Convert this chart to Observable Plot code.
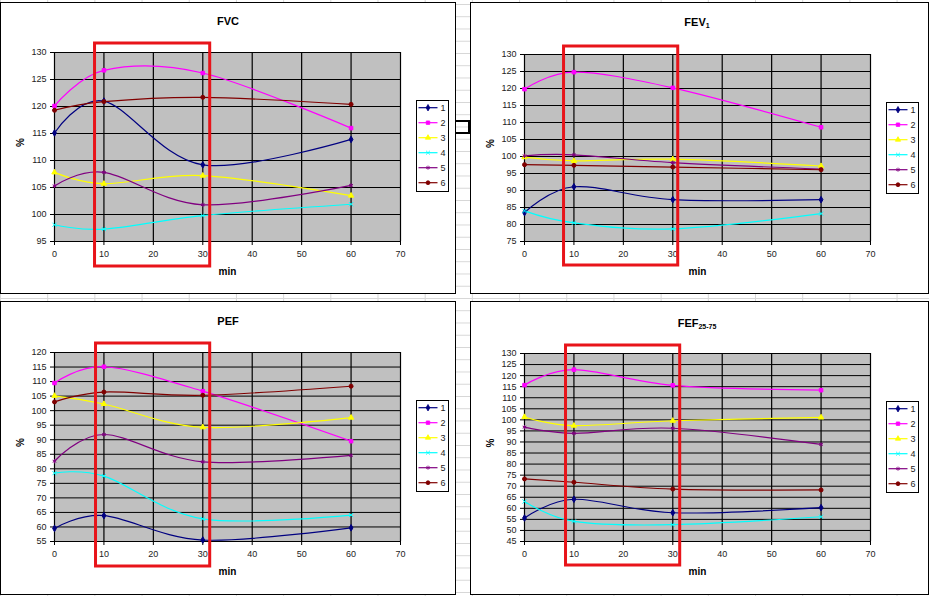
<!DOCTYPE html>
<html><head><meta charset="utf-8">
<script src="https://cdn.jsdelivr.net/npm/d3@7"></script>
<script src="https://cdn.jsdelivr.net/npm/@observablehq/plot@0.6"></script>
<style>
html,body{margin:0;padding:0;}
body{width:929px;height:596px;overflow:hidden;font-family:Arial,"Liberation Sans",sans-serif;background-color:#fff;
 background-image:linear-gradient(to bottom,#d6d6d6 1px,transparent 1px),linear-gradient(to right,#d6d6d6 1px,transparent 1px);
 background-size:47.2px 12.25px;background-position:0 4px;}
#wrap{position:relative;width:929px;height:596px;}
.panel{position:absolute;background:#fff;border:1px solid #000;box-sizing:border-box;}
.chart{position:absolute;}
.title{position:absolute;font-weight:bold;font-size:11px;transform:translate(-50%,-50%);white-space:nowrap;color:#000;}
.title sub{font-size:7px;vertical-align:-2px;line-height:0;}
.legend{position:absolute;}
.handle{position:absolute;background:#000;}
</style></head>
<body><div id="wrap"></div>
<script>
// ---- data ----
const minutes = [0, 10, 30, 60];
const series = ["1", "2", "3", "4", "5", "6"];
const seriesColors = ["#000080", "#ff00ff", "#ffff00", "#00ffff", "#800080", "#800000"];
const seriesSymbols = ["diamond", "square", "triangle", "times", "asterisk", "circle"];
const xTicks = [0, 10, 20, 30, 40, 50, 60, 70];

const fvc = [
  [115.1, 121.0, 109.2, 113.9],
  [120.1, 126.7, 126.2, 116.0],
  [107.8, 105.7, 107.2, 103.5],
  [98.1, 97.3, 99.8, 101.9],
  [105.3, 107.8, 101.8, 105.4],
  [119.3, 120.9, 121.7, 120.4]
];
const fev1 = [
  [83.5, 91.1, 87.3, 87.3],
  [119.8, 124.8, 120.2, 108.6],
  [99.8, 98.7, 99.2, 97.2],
  [84.0, 80.5, 78.7, 83.2],
  [100.2, 100.5, 98.2, 96.3],
  [97.6, 97.4, 96.9, 96.1]
];
const pef = [
  [59.5, 63.9, 55.5, 59.7],
  [109.5, 115.1, 106.7, 89.5],
  [105.1, 102.3, 94.3, 97.6],
  [78.5, 77.5, 62.8, 64.1],
  [82.6, 91.8, 82.4, 84.6],
  [103.0, 106.4, 105.3, 108.4]
];
const fef2575 = [
  [55.6, 64.1, 58.0, 60.3],
  [115.7, 122.7, 115.6, 113.4],
  [101.3, 97.4, 99.6, 101.1],
  [63.1, 54.1, 52.6, 56.2],
  [96.7, 93.9, 96.2, 88.9],
  [73.3, 71.8, 68.7, 68.3]
];
const fvcTicks = d3.range(95, 131, 5);
const fev1Ticks = d3.range(75, 131, 5);
const pefTicks = d3.range(55, 121, 5);
const fefTicks = d3.range(45, 131, 5);
// highlighted time window (min)
const fvcWindow = [8.2, 31.5];
const fev1Window = [8.0, 31.1];
const pefWindow = [8.4, 31.5];
const fefWindow = [8.4, 31.5];

// ---- layout ----
const panels = [
  {title: "FVC", sub: "", values: fvc, ticks: fvcTicks, win: fvcWindow,
   box: {left: 0, top: 2, width: 456, height: 292}, m: {l: 54, r: 56, t: 50, b: 53},
   titlePos: [228, 21], legendPos: [416, 100], winInset: [-9, -25]},
  {title: "FEV", sub: "1", values: fev1, ticks: fev1Ticks, win: fev1Window,
   box: {left: 470, top: 2, width: 459, height: 292}, m: {l: 54, r: 59, t: 52, b: 53},
   titlePos: [697, 22], legendPos: [886, 102], winInset: [-8, -24]},
  {title: "PEF", sub: "", values: pef, ticks: pefTicks, win: pefWindow,
   box: {left: 0, top: 301, width: 456, height: 294}, m: {l: 54, r: 56, t: 51, b: 54},
   titlePos: [228, 321], legendPos: [416, 400], winInset: [-9, -25]},
  {title: "FEF", sub: "25-75", values: fef2575, ticks: fefTicks, win: fefWindow,
   box: {left: 470, top: 301, width: 459, height: 294}, m: {l: 54, r: 59, t: 52, b: 54},
   titlePos: [697, 323], legendPos: [886, 401], winInset: [-8, -24]}
];

const wrap = document.getElementById("wrap");
const FONT = "Arial, 'Liberation Sans', sans-serif";

for (const p of panels) {
  const div = document.createElement("div");
  div.className = "panel";
  Object.assign(div.style, {left: p.box.left + "px", top: p.box.top + "px", width: p.box.width + "px", height: p.box.height + "px"});
  wrap.appendChild(div);

  const rows = [];
  series.forEach((s, i) => minutes.forEach((t, j) => rows.push({series: s, min: t, value: p.values[i][j]})));
  const yDomain = [p.ticks[0], p.ticks[p.ticks.length - 1]];

  const chart = Plot.plot({
    width: p.box.width, height: p.box.height,
    marginLeft: p.m.l, marginRight: p.m.r, marginTop: p.m.t, marginBottom: p.m.b,
    style: {fontFamily: FONT, background: "transparent", overflow: "visible"},
    x: {domain: [0, 70], label: null},
    y: {domain: yDomain, label: null},
    color: {domain: series, range: seriesColors},
    symbol: {domain: series, range: seriesSymbols},
    marks: [
      Plot.frame({fill: "#c0c0c0"}),
      Plot.ruleX(xTicks, {stroke: "#000", strokeWidth: 1.2}),
      Plot.ruleY(p.ticks, {stroke: "#000", strokeWidth: 1}),
      Plot.axisX({ticks: xTicks, tickSize: 4, tickPadding: 5, fontSize: 9, stroke: "#000", fill: "#222", label: null}),
      Plot.axisY({ticks: p.ticks, tickSize: 4, tickPadding: 4, fontSize: 9, stroke: "#000", fill: "#222", label: null}),
      Plot.line(rows, {x: "min", y: "value", z: "series", stroke: "series", curve: "cardinal", tension: 0, strokeWidth: 1.2}),
      Plot.dot(rows, {x: "min", y: "value", symbol: "series", fill: "series", stroke: "series", r: 2, strokeWidth: 1}),
      Plot.rect([{x1: p.win[0], x2: p.win[1]}], {x1: "x1", x2: "x2", fill: "none", stroke: "#e8141a", strokeWidth: 3,
        insetTop: p.winInset[0], insetBottom: p.winInset[1]}),
      Plot.text(["min"], {frameAnchor: "bottom", dy: 33, fontWeight: "bold", fontSize: 10, fill: "#000"}),
      Plot.text(["%"], {frameAnchor: "left", dx: -34, rotate: -90, fontWeight: "bold", fontSize: 10, fill: "#000"})
    ]
  });
  chart.classList.add("chart");
  Object.assign(chart.style, {left: p.box.left + "px", top: p.box.top + "px"});
  wrap.appendChild(chart);

  const t = document.createElement("div");
  t.className = "title";
  t.innerHTML = p.title + (p.sub ? "<sub>" + p.sub + "</sub>" : "");
  Object.assign(t.style, {left: p.titlePos[0] + "px", top: p.titlePos[1] + "px"});
  wrap.appendChild(t);

  // legend
  const lw = 33, lh = 92;
  const lg = d3.create("svg").attr("width", lw).attr("height", lh).attr("class", "legend")
    .style("left", p.legendPos[0] + "px").style("top", p.legendPos[1] + "px");
  lg.append("rect").attr("x", 0.5).attr("y", 0.5).attr("width", lw - 1).attr("height", lh - 1)
    .attr("fill", "#fff").attr("stroke", "#000");
  const symMap = {diamond: d3.symbolDiamond, square: d3.symbolSquare, triangle: d3.symbolTriangle,
    times: d3.symbolTimes, asterisk: d3.symbolAsterisk, circle: d3.symbolCircle};
  series.forEach((s, i) => {
    const y = 7.7 + i * 15;
    const g = lg.append("g").attr("transform", `translate(0,${y})`);
    g.append("line").attr("x1", 2.5).attr("x2", 21.5).attr("y1", 0).attr("y2", 0)
      .attr("stroke", seriesColors[i]).attr("stroke-width", 1.2);
    g.append("path").attr("transform", "translate(12,0)")
      .attr("d", d3.symbol(symMap[seriesSymbols[i]], 12)())
      .attr("fill", seriesColors[i]).attr("stroke", seriesColors[i]).attr("stroke-width", 0.8);
    g.append("text").attr("x", 24.5).attr("y", 0).attr("dy", "0.35em")
      .attr("font-size", 9).attr("font-family", FONT).attr("fill", "#222").text(s);
  });
  wrap.appendChild(lg.node());
}

// small sheet selection handle between the top panels
[[456, 120, 14, 2], [456, 132, 14, 2], [468, 120, 2, 14]].forEach(([l, t, w, h]) => {
  const d = document.createElement("div");
  d.className = "handle";
  Object.assign(d.style, {left: l + "px", top: t + "px", width: w + "px", height: h + "px"});
  wrap.appendChild(d);
});
</script>
</body></html>
